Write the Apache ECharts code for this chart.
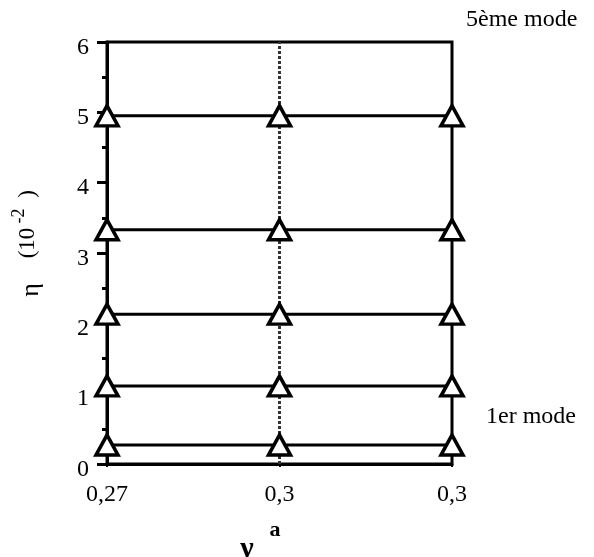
<!DOCTYPE html>
<html>
<head>
<meta charset="utf-8">
<script src="https://cdn.jsdelivr.net/npm/echarts@6/dist/echarts.min.js"></script>
<style>
  html, body { margin: 0; padding: 0; background: #fff; }
  #chart { width: 594px; height: 557px; }
</style>
</head>
<body>
<div id="chart"></div>
<script>
// Poisson ratio values along the horizontal axis
const xLabels = ['0,27', '0,3', '0,3'];

// Loss factor eta (x 10^-2) for modes 1 to 5
const mode1 = [0.27, 0.27, 0.27];
const mode2 = [1.11, 1.11, 1.11];
const mode3 = [2.13, 2.13, 2.13];
const mode4 = [3.33, 3.33, 3.33];
const mode5 = [4.95, 4.95, 4.95];
const modes = [mode1, mode2, mode3, mode4, mode5];

const serif = 'Liberation Serif';

const chart = echarts.init(document.getElementById('chart'), null, { renderer: 'canvas' });

const series = modes.map((vals, k) => ({
  type: 'line',
  data: vals.map((v, i) => [i, v]),
  symbol: 'triangle',
  symbolSize: [22, 20],
  showSymbol: true,
  lineStyle: { color: '#000', width: 3 },
  itemStyle: { color: '#fff', borderColor: '#000', borderWidth: 3.5 },
  z: 5,
  markLine: k === 0 ? {
    silent: true,
    symbol: 'none',
    label: { show: false },
    lineStyle: { color: '#333', width: 3, type: [3, 2] },
    data: [{ xAxis: 1 }],
    z: 2
  } : undefined
}));

chart.setOption({
  animation: false,
  backgroundColor: '#fff',
  grid: {
    left: 107, right: 142, top: 42, bottom: 93,
    show: true, borderColor: '#000', borderWidth: 3
  },
  xAxis: {
    type: 'value',
    min: 0, max: 2, interval: 1,
    axisLine: { show: true, lineStyle: { color: '#000', width: 3 } },
    axisTick: { show: true, length: 3, lineStyle: { color: '#000', width: 2 } },
    splitLine: { show: false },
    axisLabel: {
      color: '#000', fontFamily: serif, fontSize: 24, margin: 19,
      formatter: v => xLabels[v]
    }
  },
  yAxis: {
    type: 'value',
    min: 0, max: 6, interval: 1,
    axisLine: { show: true, lineStyle: { color: '#000', width: 3 } },
    axisTick: { show: true, length: 10, lineStyle: { color: '#000', width: 3 } },
    minorTick: { show: true, splitNumber: 2, length: 5, lineStyle: { color: '#000', width: 3 } },
    splitLine: { show: false },
    axisLabel: {
      color: '#000', margin: 18,
      formatter: v => '{t|' + v + '}',
      rich: { t: { fontFamily: serif, fontSize: 24, color: '#000', padding: [11, 0, 0, 0] } }
    }
  },
  series: series,
  graphic: [
    {
      type: 'text', left: 466, top: 8,
      style: { text: '5ème mode', fill: '#000', font: '24px "Liberation Serif"' }
    },
    {
      type: 'text', left: 486, top: 405,
      style: { text: '1er mode', fill: '#000', font: '24px "Liberation Serif"' }
    },
    {
      // rotated axis title: eta (10^-2)
      type: 'group', x: 31, y: 290, rotation: Math.PI / 2,
      children: [
        { type: 'text', x: 0, y: 0,
          style: { text: 'η', fill: '#000', font: '26px "Liberation Serif"', align: 'center', verticalAlign: 'middle' } },
        { type: 'text', x: 47, y: -3,
          style: { text: '(10', fill: '#000', font: '23px "Liberation Serif"', align: 'center', verticalAlign: 'middle' } },
        { type: 'text', x: 74, y: -12,
          style: { text: '-2', fill: '#000', font: '18px "Liberation Serif"', align: 'center', verticalAlign: 'middle' } },
        { type: 'text', x: 96, y: -3,
          style: { text: ')', fill: '#000', font: '23px "Liberation Serif"', align: 'center', verticalAlign: 'middle' } }
      ]
    },
    {
      type: 'text', x: 247, y: 549,
      style: { text: 'ν', fill: '#000', font: 'bold 30px "Liberation Serif"', align: 'center', verticalAlign: 'middle' }
    },
    {
      type: 'text', x: 275, y: 530,
      style: { text: 'a', fill: '#000', font: 'bold 22px "Liberation Serif"', align: 'center', verticalAlign: 'middle' }
    }
  ]
});
</script>
</body>
</html>
